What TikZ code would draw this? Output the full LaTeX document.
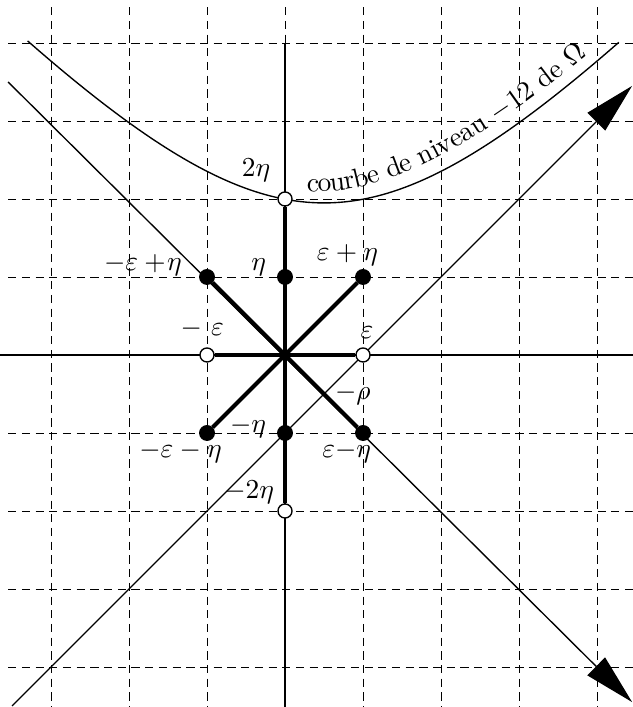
\documentclass[tikz,border=0pt]{standalone}
\usetikzlibrary{arrows.meta, positioning, decorations.text}

\begin{document}
\begin{tikzpicture}[
    gridline/.style={line width=0.3pt, dash pattern=on 3pt off 2pt},
    axis/.style={line width=0.5pt},
    ray/.style={line width=0.5pt, -{Triangle[length=6.5mm, width=3.2mm]}},
    spoke/.style={line width=1.5pt},
    dot/.style={circle, draw=black, fill=black, inner sep=0pt, minimum size=1.9mm},
    hole/.style={circle, draw=black, fill=white, line width=0.5pt, inner sep=0pt, minimum size=1.8mm},
    lab/.style={inner sep=1pt},
    curvetext/.style={decorate, decoration={text along path, raise=4pt,
            text={courbe de niveau {$-$}12 de {$\Omega$}}}}
    ]

    \useasboundingbox (-3.654,-4.513) rectangle (4.449,4.551);

    % Dashed grid
    \foreach \x in {-3,...,4}
        \draw[gridline] (\x,4.46) -- (\x,-4.52);
    \foreach \y in {-4,...,4}
        \draw[gridline] (-3.55,\y) -- (4.46,\y);

    % Axes
    \coordinate (O) at (0,0);
    \coordinate (ytop) at (0,4);
    \coordinate (ybot) at (0,-4.52);
    \coordinate (xleft) at (-3.66,0);
    \coordinate (xright) at (4.46,0);
    \draw[axis] (ytop) -- (ybot);
    \draw[axis] (xleft) -- (xright);

    % Diagonal directions
    \coordinate (rstart) at (-3.5,-4.5);
    \coordinate (rend) at (4.45,3.45);
    \coordinate (sstart) at (-3.55,3.5);
    \coordinate (send) at (4.45,-4.45);
    \draw[ray] (rstart) -- (rend);
    \draw[ray] (sstart) -- (send);

    % Level curve and its name
    \draw[axis] plot[domain=-3.3:4.28, samples=60, smooth] (\x, {1.95+sqrt(9.73+1.196*(\x-0.5)*(\x-0.5))-3.12});
    \coordinate (tstart) at (0.27,1.959);
    \coordinate (tend) at (4.28,4.009);
    \path[curvetext] (tstart) .. controls (1.276,1.870) and (2.613,2.570) .. (tend);

    % Points
    \node[hole] (p2eta) at (0,2) {};
    \node[hole] (pm2eta) at (0,-2) {};
    \node[hole] (peps) at (1,0) {};
    \node[hole] (pmeps) at (-1,0) {};
    \node[dot] (peta) at (0,1) {};
    \node[dot] (pmeta) at (0,-1) {};
    \node[dot] (pepseta) at (1,1) {};
    \node[dot] (pmepseta) at (-1,1) {};
    \node[dot] (pepsmeta) at (1,-1) {};
    \node[dot] (pmepsmeta) at (-1,-1) {};

    % Star
    \draw[spoke] (p2eta) -- (pm2eta);
    \draw[spoke] (pmeps) -- (peps);
    \draw[spoke] (pmepseta) -- (pepsmeta);
    \draw[spoke] (pmepsmeta) -- (pepseta);

    % Labels
    \node[lab, left=0.5mm of p2eta, yshift=3.7mm] (l2eta) {$2\eta$};
    \node[lab, left=1mm of peta, yshift=1.2mm] (leta) {$\eta$};
    \node[lab, above=0mm of pepseta, xshift=-2mm] (lepseta) {$\varepsilon + \eta$};
    \node[lab, left=1.8mm of pmepseta, yshift=1.5mm] (lmepseta) {$-\varepsilon +\!\eta$};
    \node[lab, above=0.75mm of pmeps, xshift=-0.6mm] (lmeps) {$-~\varepsilon$};
    \node[lab, above=0.75mm of peps, xshift=0.5mm] (leps) {$\varepsilon$};
    \node[lab, below=2.3mm of peps, xshift=-1.3mm] (lrho) {$-\rho$};
    \node[lab, left=1mm of pmeta, yshift=0.8mm] (lmeta) {$-\eta$};
    \node[lab, below=-0.3mm of pmepsmeta, xshift=-3.4mm] (lmepsmeta) {$-\varepsilon - \eta$};
    \node[lab, below=-0.3mm of pepsmeta, xshift=-2.1mm] (lepsmeta) {$\varepsilon{-}\eta$};
    \node[lab, left=0mm of pm2eta, yshift=2.4mm] (lm2eta) {$-2\eta$};

\end{tikzpicture}
\end{document}
